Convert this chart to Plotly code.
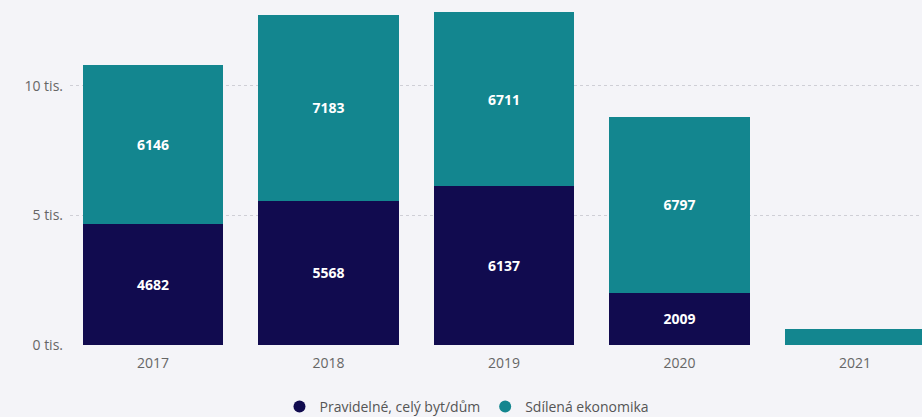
import plotly.graph_objects as go

years = ["2017", "2018", "2019", "2020", "2021"]
pravidelne = [4682, 5568, 6137, 2009, 0]
sdilena = [6146, 7183, 6711, 6797, 620]
ytick_vals = [0, 5000, 10000]
ytick_text = ["0 tis.", "5 tis.", "10 tis."]

navy = "#110b4f"
teal = "#13868f"

def labels(vals):
    return [str(v) if v >= 1500 else "" for v in vals]

fig = go.Figure()
fig.add_trace(go.Bar(x=years, y=pravidelne, name="Pravidelné, celý byt/dům",
                     marker=dict(color=navy, line=dict(width=0)),
                     text=labels(pravidelne), textposition="inside",
                     insidetextanchor="middle",
                     textfont=dict(color="white", size=14, family="Open Sans", weight="bold"),
                     showlegend=False, hoverinfo="skip"))
fig.add_trace(go.Bar(x=years, y=sdilena, name="Sdílená ekonomika",
                     marker=dict(color=teal, line=dict(width=0)),
                     text=labels(sdilena), textposition="inside",
                     insidetextanchor="middle",
                     textfont=dict(color="white", size=14, family="Open Sans", weight="bold"),
                     showlegend=False, hoverinfo="skip"))
for nm, c in [("Pravidelné, celý byt/dům", navy), ("Sdílená ekonomika", teal)]:
    fig.add_trace(go.Scatter(x=[None], y=[None], mode="markers", name=nm,
                             marker=dict(color=c, size=15, symbol="circle")))

fig.update_layout(
    width=922, height=417,
    barmode="stack", bargap=0.2,
    paper_bgcolor="#f4f4f8", plot_bgcolor="#f4f4f8",
    margin=dict(l=70, r=0, t=0, b=72, autoexpand=False),
    font=dict(family="Open Sans", color="#666666", size=13),
    uniformtext=dict(mode="hide", minsize=10),
    legend=dict(orientation="h", xref="container", yref="container",
                x=0.5065, xanchor="center", y=0.024, yanchor="middle",
                font=dict(size=14, color="#555555"), traceorder="normal",
                itemsizing="constant"),
    xaxis=dict(type="category", range=[-0.473, 4.382], showgrid=False,
               ticks="", tickfont=dict(size=14, color="#666666"), fixedrange=True,
               ticklabelstandoff=8),
    yaxis=dict(range=[0, 13320], tickvals=ytick_vals, ticktext=ytick_text,
               showgrid=True, gridcolor="#cfcfd6", griddash="dot", gridwidth=1,
               zeroline=False, tickfont=dict(size=14, color="#666666"),
               ticklabelstandoff=6),
)
fig.update_yaxes(layer="below traces")

fig.write_html(
    "out.html",
    config={"displayModeBar": False},
    post_script="document.body.style.margin='0';document.body.style.overflow='hidden';",
)
